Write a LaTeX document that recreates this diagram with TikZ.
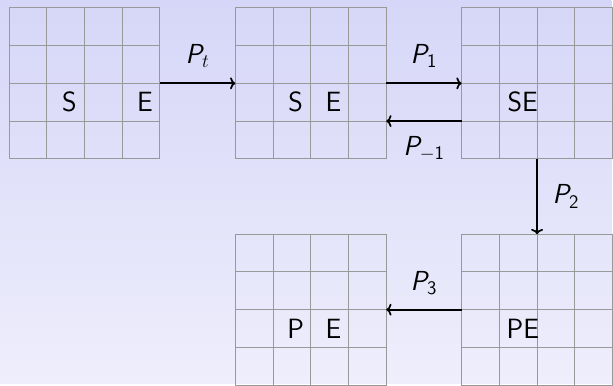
\documentclass[tikz,border=0pt]{standalone}
\usetikzlibrary{positioning, arrows.meta}

\renewcommand{\familydefault}{\sfdefault}
\DeclareMathAlphabet{\mathsfsl}{OT1}{cmss}{m}{sl}
\newcommand{\prob}[1]{$\mathsfsl{P}_{#1}$}

\definecolor{bgtop}{RGB}{214,214,248}
\definecolor{bgbottom}{RGB}{238,238,252}

\begin{document}
\begin{tikzpicture}[
% node style
board/.style={rectangle, draw=black!40, line width=0.7pt, minimum size=4cm,
  inner sep=0pt, outer sep=0pt,
  path picture={\draw[black!40, line width=0.7pt]
    (path picture bounding box.south west) grid[step=1cm]
    (path picture bounding box.north east);}},
piece/.style={font=\fontsize{21}{25}\selectfont, inner sep=0pt},
move/.style={-{To[width=9pt, length=4pt]}, line width=1.3pt},
lbl/.style={font=\fontsize{21}{25}\selectfont, inner sep=6pt}
]

% background
\fill[top color=bgtop, bottom color=bgbottom] (-2.24,2.21) rectangle (13.97,-7.96);

% boards
\node[board] (st_start) {};
\node[board] (st_se) [right=2cm of st_start] {};
\node[board] (st_joint) [right=2cm of st_se] {};
\node[board] (st_pe) [below=2cm of st_joint] {};
\node[board] (st_end) [left=2cm of st_pe] {};

% letters on the boards
\node[piece] (s_start) at ([shift={(-0.4,-0.5)}]st_start.center) {S};
\node[piece] (e_start) at ([shift={(1.6,-0.5)}]st_start.center) {E};
\node[piece] (s_se) at ([shift={(-0.4,-0.5)}]st_se.center) {S};
\node[piece] (e_se) at ([shift={(0.6,-0.5)}]st_se.center) {E};
\node[piece] (se_joint) at ([shift={(-0.38,-0.5)}]st_joint.center) {SE};
\node[piece] (pe_joint) at ([shift={(-0.38,-0.5)}]st_pe.center) {PE};
\node[piece] (p_end) at ([shift={(-0.4,-0.5)}]st_end.center) {P};
\node[piece] (e_end) at ([shift={(0.6,-0.5)}]st_end.center) {E};

% draw lines between boards
\draw[move] (st_start.east) -- (st_se.west) node [lbl, midway, above=5pt] {\prob{t}};
\draw[move] (st_se.east) -- (st_joint.west) node [lbl, midway, above=5pt] {\prob{\mathsf{1}}};
\draw[move] ([yshift=-1cm]st_joint.west) -- ([yshift=-1cm]st_se.east) node [lbl, midway, below=5pt] {\prob{-\mathsf{1}}};
\draw[move] (st_joint.south) -- (st_pe.north) node [lbl, midway, right=5pt] {\prob{\mathsf{2}}};
\draw[move] (st_pe.west) -- (st_end.east) node [lbl, midway, above=5pt] {\prob{\mathsf{3}}};

\end{tikzpicture}
\end{document}
